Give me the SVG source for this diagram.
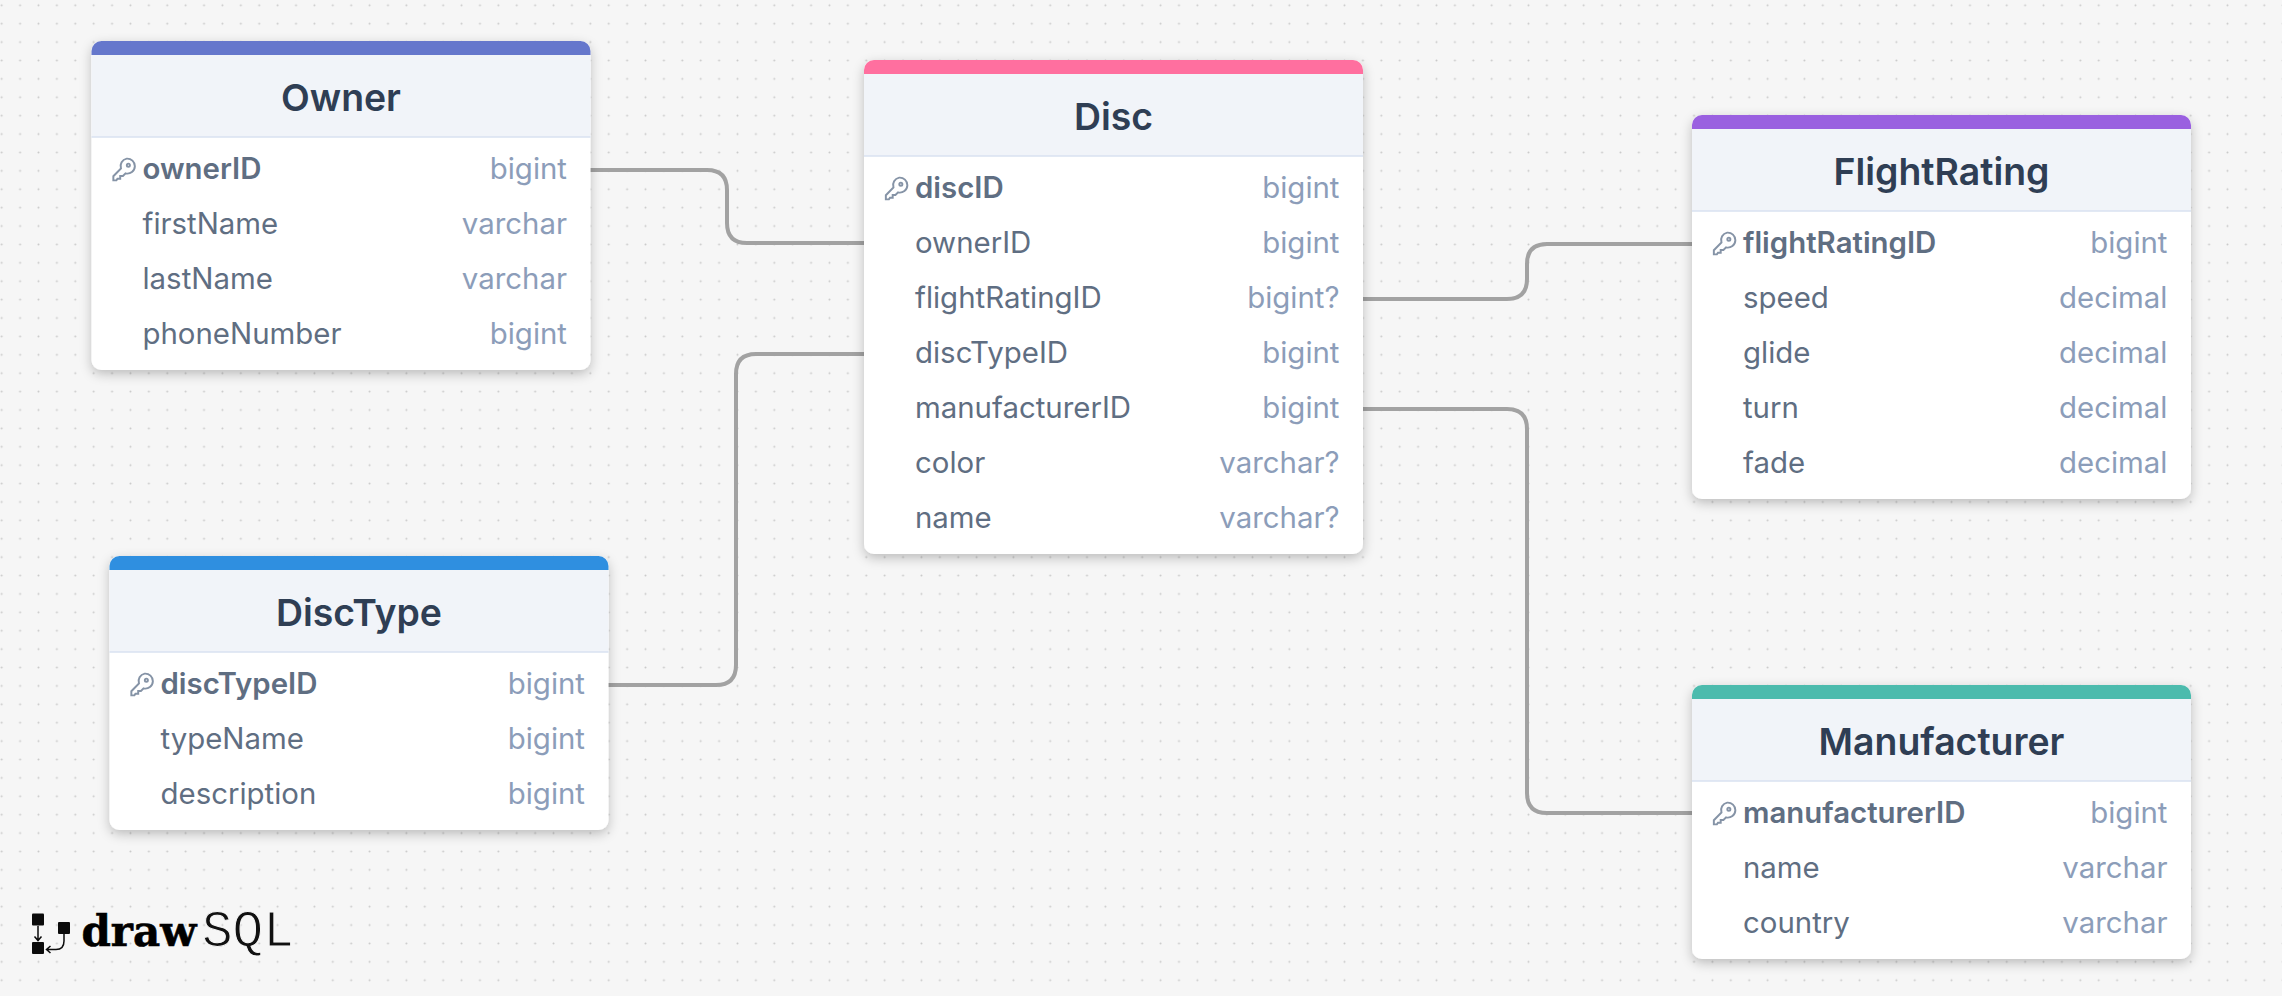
<svg xmlns="http://www.w3.org/2000/svg" width="2282" height="996" viewBox="0 0 2282 996">
<style>
.card{fill:#fff;filter:url(#sh)}
.head{fill:#f1f4f9}
.rule{stroke:#d8e2f0;stroke-width:1.5}
.title{font:600 37.4px Inter,"Liberation Sans",sans-serif;fill:#2f3e54;text-anchor:middle}
.f{font:400 29.4px Inter,"Liberation Sans",sans-serif;fill:#5f6e82}
.pk{font-weight:600}
.t{font:400 29.4px Inter,"Liberation Sans",sans-serif;fill:#8c9db9;text-anchor:end}
.conn{fill:none;stroke:#a2a2a2;stroke-width:4}
.key{fill:none;stroke:#8593a6;stroke-width:1.800}
</style>
<defs>
<pattern id="dots" width="18.395" height="18.395" patternUnits="userSpaceOnUse" x="-7.5" y="-3.9">
<circle cx="9.2" cy="9.2" r="1" fill="#c9c9c9"/>
</pattern>
<filter id="sh" x="-10%" y="-10%" width="120%" height="120%">
<feDropShadow dx="0" dy="4" stdDeviation="6" flood-color="#000" flood-opacity=".24"/>
</filter>
<symbol id="k" viewBox="0 0 22 23" width="24" height="25" overflow="visible">
<path class="key" d="M13.5 1.5a7 7 0 0 1 7.5 7 7 7 0 0 1-8.5 6.6l-2.5 2.4H7.5v2.5H5l-1 1.5H1.2v-3.8L8.2 10.6A7 7 0 0 1 13.5 1.500z"/>
<circle class="key" cx="15" cy="7.500" r="1.400"/>
</symbol>
</defs>
<rect width="2282" height="996" fill="#f6f6f6"/>
<rect width="2282" height="996" fill="url(#dots)"/>

<g id="connectors">
<path class="conn" d="M590 170H707q20 0 20 20V223q0 20 20 20H864"/>
<path class="conn" d="M608 685H716q20 0 20-20V374q0-20 20-20H864"/>
<path class="conn" d="M1363 299H1507q20 0 20-20V264q0-20 20-20H1692"/>
<path class="conn" d="M1363 409H1507q20 0 20 20V793q0 20 20 20H1692"/>
</g>

<g id="owner" transform="translate(91.500 41)">
<rect class="card" width="499" height="329" rx="10"/>
<path d="M0 14H499V96H0z" class="head"/>
<path d="M0 14V10a10 10 0 0 1 10-10H489a10 10 0 0 1 10 10V14z" fill="#6577cc"/>
<path class="rule" d="M0 96H499"/>
<text class="title" x="249.500" y="70">Owner</text>
<use href="#k" x="20.500" y="116"/>
<text class="f pk" x="51" y="138">ownerID</text><text class="t" x="475.500" y="138">bigint</text>
<text class="f" x="51" y="193">firstName</text><text class="t" x="475.500" y="193">varchar</text>
<text class="f" x="51" y="248">lastName</text><text class="t" x="475.500" y="248">varchar</text>
<text class="f" x="51" y="303">phoneNumber</text><text class="t" x="475.500" y="303">bigint</text>
</g>

<g id="disc" transform="translate(864 60)">
<rect class="card" width="499" height="494" rx="10"/>
<path d="M0 14H499V96H0z" class="head"/>
<path d="M0 14V10a10 10 0 0 1 10-10H489a10 10 0 0 1 10 10V14z" fill="#ff6f9f"/>
<path class="rule" d="M0 96H499"/>
<text class="title" x="249.500" y="70">Disc</text>
<use href="#k" x="20.500" y="116"/>
<text class="f pk" x="51" y="138">discID</text><text class="t" x="475.500" y="138">bigint</text>
<text class="f" x="51" y="193">ownerID</text><text class="t" x="475.500" y="193">bigint</text>
<text class="f" x="51" y="248">flightRatingID</text><text class="t" x="475.500" y="248">bigint?</text>
<text class="f" x="51" y="303">discTypeID</text><text class="t" x="475.500" y="303">bigint</text>
<text class="f" x="51" y="358">manufacturerID</text><text class="t" x="475.500" y="358">bigint</text>
<text class="f" x="51" y="413">color</text><text class="t" x="475.500" y="413">varchar?</text>
<text class="f" x="51" y="468">name</text><text class="t" x="475.500" y="468">varchar?</text>
</g>

<g id="flightrating" transform="translate(1692 115)">
<rect class="card" width="499" height="384" rx="10"/>
<path d="M0 14H499V96H0z" class="head"/>
<path d="M0 14V10a10 10 0 0 1 10-10H489a10 10 0 0 1 10 10V14z" fill="#9a60e0"/>
<path class="rule" d="M0 96H499"/>
<text class="title" x="249.500" y="70">FlightRating</text>
<use href="#k" x="20.500" y="116"/>
<text class="f pk" x="51" y="138">flightRatingID</text><text class="t" x="475.500" y="138">bigint</text>
<text class="f" x="51" y="193">speed</text><text class="t" x="475.500" y="193">decimal</text>
<text class="f" x="51" y="248">glide</text><text class="t" x="475.500" y="248">decimal</text>
<text class="f" x="51" y="303">turn</text><text class="t" x="475.500" y="303">decimal</text>
<text class="f" x="51" y="358">fade</text><text class="t" x="475.500" y="358">decimal</text>
</g>

<g id="disctype" transform="translate(109.500 556)">
<rect class="card" width="499" height="274" rx="10"/>
<path d="M0 14H499V96H0z" class="head"/>
<path d="M0 14V10a10 10 0 0 1 10-10H489a10 10 0 0 1 10 10V14z" fill="#2f8fe0"/>
<path class="rule" d="M0 96H499"/>
<text class="title" x="249.500" y="70">DiscType</text>
<use href="#k" x="20.500" y="116"/>
<text class="f pk" x="51" y="138">discTypeID</text><text class="t" x="475.500" y="138">bigint</text>
<text class="f" x="51" y="193">typeName</text><text class="t" x="475.500" y="193">bigint</text>
<text class="f" x="51" y="248">description</text><text class="t" x="475.500" y="248">bigint</text>
</g>

<g id="manufacturer" transform="translate(1692 685)">
<rect class="card" width="499" height="274" rx="10"/>
<path d="M0 14H499V96H0z" class="head"/>
<path d="M0 14V10a10 10 0 0 1 10-10H489a10 10 0 0 1 10 10V14z" fill="#4cbbad"/>
<path class="rule" d="M0 96H499"/>
<text class="title" x="249.500" y="70">Manufacturer</text>
<use href="#k" x="20.500" y="116"/>
<text class="f pk" x="51" y="138">manufacturerID</text><text class="t" x="475.500" y="138">bigint</text>
<text class="f" x="51" y="193">name</text><text class="t" x="475.500" y="193">varchar</text>
<text class="f" x="51" y="248">country</text><text class="t" x="475.500" y="248">varchar</text>
</g>

<g id="logo">
<rect x="32" y="913.500" width="12" height="12" rx="1" fill="#0b0b0b"/>
<rect x="32" y="942" width="12" height="12" rx="1" fill="#0b0b0b"/>
<rect x="58" y="922" width="12" height="12" rx="1" fill="#0b0b0b"/>
<path d="M38 926V940M34.500 936.500L38 940.500L41.500 936.500" fill="none" stroke="#0b0b0b" stroke-width="1.500"/>
<path d="M64 934V941Q64 949.500 56 949.500H47M50.500 946L46.500 949.500L50.500 953" fill="none" stroke="#0b0b0b" stroke-width="1.500"/>
<text x="81.500" y="946" font-family="'DejaVu Serif',serif" font-weight="700" font-size="42" stroke="#000" stroke-width=".6" fill="#000">draw</text>
<text x="202" y="946" font-family="'Liberation Mono',monospace" font-size="51" fill="#111" stroke="#f6f6f6" stroke-width="1">SQL</text>
</g>
</svg>
